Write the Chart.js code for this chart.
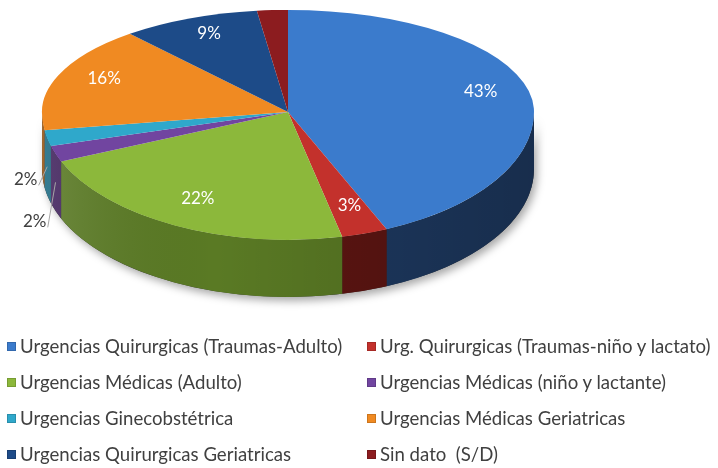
<!DOCTYPE html>
<html lang="es">
<head>
<meta charset="UTF-8">
<title>Urgencias por tipo</title>
<script src="https://cdn.jsdelivr.net/npm/chart.js@4.4.0/dist/chart.umd.min.js"></script>
<style>
    body {
        margin: 0;
        width: 718px;
        height: 468px;
        overflow: hidden;
        position: relative;
        background: #fff;
        font-family: Lato, "Open Sans", sans-serif;
    }
    .grafico {
        position: absolute;
        left: 0;
        top: 0;
        width: 718px;
        height: 520px;
    }
    .leyenda {
        position: absolute;
        left: 7px;
        top: 328px;
        display: grid;
        grid-template-columns: 360px 350px;
    }
    .leyenda div {
        display: flex;
        align-items: center;
        height: 36px;
        font-size: 18.6px;
        color: #404040;
        white-space: pre;
    }
    .leyenda .cuadro {
        width: 9px;
        height: 9px;
        margin-right: 4px;
        box-shadow: inset 0 0 0 1px rgba(0,0,0,0.15);
    }
</style>
</head>
<body>

<div class="grafico"><canvas id="torta"></canvas></div>
<div class="leyenda" id="leyenda"></div>

<script>
    // datos
    const categorias = [
        'Urgencias Quirurgicas (Traumas-Adulto)',
        'Urg. Quirurgicas (Traumas-niño y lactato)',
        'Urgencias Médicas (Adulto)',
        'Urgencias Médicas (niño y lactante)',
        'Urgencias Ginecobstétrica',
        'Urgencias Médicas Geriatricas',
        'Urgencias Quirurgicas Geriatricas',
        'Sin dato  (S/D)'
    ];
    const valores = [43, 3, 22, 2, 2, 16, 9, 2];
    const etiquetas = ['43%', '3%', '22%', '2%', '2%', '16%', '9%', ''];
    const colores = ['#3b7bcc', '#c3312c', '#8cb83b', '#7145a0', '#2fa8cb', '#f08a22', '#1d4b88', '#8c1c1f'];
    const coloresLado = ['#1e3a62', '#5e1512', '#5a7a24', '#42245e', '#1b6a82', '#94520f', '#10294a', '#4c0d0f'];

    // geometria del pastel 3D
    const VX = 288, VY = 112;
    const K_ARRIBA = 0.415, K_ABAJO = 0.52;
    const PROF = 57;

    // leyenda en dos columnas
    const leyenda = document.getElementById('leyenda');
    categorias.forEach((nombre, i) => {
        const item = document.createElement('div');
        item.innerHTML = '<span class="cuadro" style="background:' + colores[i] + '"></span>' + nombre;
        leyenda.appendChild(item);
    });

    const pastel3d = {
        id: 'pastel3d',
        beforeDatasetsDraw(chart) {
            const ctx = chart.ctx;
            const meta = chart.getDatasetMeta(0);
            const arcos = meta.data;
            const R = arcos[0].outerRadius, cx = arcos[0].x, cy = arcos[0].y;
            const ry = R * K_ABAJO;

            // sombra de la base
            ctx.save();
            ctx.shadowColor = 'rgba(0,0,0,0.35)';
            ctx.shadowBlur = 9;
            ctx.shadowOffsetX = 3;
            ctx.shadowOffsetY = 4;
            ctx.beginPath();
            ctx.ellipse(VX, VY, R, ry, 0, 0, Math.PI);
            ctx.ellipse(VX, VY + PROF, R, ry, 0, Math.PI, 0, true);
            ctx.closePath();
            ctx.fillStyle = '#333';
            ctx.fill();
            ctx.restore();

            // paredes laterales
            arcos.forEach((arco, i) => {
                const a = Math.max(arco.startAngle, 0);
                const b = Math.min(arco.endAngle, Math.PI);
                if (a >= b) return;
                ctx.beginPath();
                ctx.ellipse(VX, VY, R, ry, 0, a, b);
                ctx.ellipse(VX, VY + PROF, R, ry, 0, b, a, true);
                ctx.closePath();
                ctx.fillStyle = coloresLado[i];
                ctx.fill();
            });

            // sombreado de las paredes
            const g = ctx.createLinearGradient(VX - R, 0, VX + R, 0);
            g.addColorStop(0, 'rgba(255,255,255,0.12)');
            g.addColorStop(0.35, 'rgba(0,0,0,0)');
            g.addColorStop(1, 'rgba(0,0,0,0.22)');
            ctx.beginPath();
            ctx.ellipse(VX, VY, R, ry, 0, 0, Math.PI);
            ctx.ellipse(VX, VY + PROF, R, ry, 0, Math.PI, 0, true);
            ctx.closePath();
            ctx.fillStyle = g;
            ctx.fill();

            // cara superior en dos mitades (perspectiva)
            [[K_ARRIBA, 0, VY], [K_ABAJO, VY, chart.height]].forEach(([k, y0, y1]) => {
                ctx.save();
                ctx.beginPath();
                ctx.rect(0, y0, chart.width, y1 - y0);
                ctx.clip();
                ctx.translate(VX, VY);
                ctx.scale(1, k);
                ctx.translate(-cx, -cy);
                meta.controller.draw();
                ctx.restore();
            });
            return false;
        },
        afterDraw(chart) {
            const ctx = chart.ctx;
            const arcos = chart.getDatasetMeta(0).data;
            const R = arcos[0].outerRadius;
            const total = valores.reduce((s, v) => s + v, 0);
            const fuera = [];

            ctx.save();
            ctx.font = '17px Lato, "Open Sans", sans-serif';
            ctx.textAlign = 'center';
            ctx.textBaseline = 'middle';
            arcos.forEach((arco, i) => {
                if (!etiquetas[i]) return;
                const m = (arco.startAngle + arco.endAngle) / 2;
                const k = Math.sin(m) < 0 ? K_ARRIBA : K_ABAJO;
                if (valores[i] / total < 0.025) {
                    const r = R + 22;
                    fuera.push({
                        i: i, m: m,
                        x: VX + r * Math.cos(m),
                        y: VY + r * k * Math.sin(m) + PROF * 0.9
                    });
                    return;
                }
                const r = R * 0.8;
                ctx.fillStyle = '#ffffff';
                ctx.fillText(etiquetas[i], VX + r * Math.cos(m), VY + r * k * Math.sin(m) - 4);
            });

            // separar etiquetas externas
            fuera.sort((p, q) => p.y - q.y);
            if (fuera.length === 2 && fuera[1].y - fuera[0].y < 42) {
                const medio = (fuera[0].y + fuera[1].y) / 2;
                fuera[0].y = medio - 21;
                fuera[1].y = medio + 21;
            }
            fuera.forEach(p => {
                const wx = VX + R * Math.cos(p.m);
                const wy = VY + R * K_ABAJO * Math.sin(p.m) + PROF * 0.5;
                ctx.strokeStyle = '#a6a6a6';
                ctx.lineWidth = 1;
                ctx.beginPath();
                ctx.moveTo(p.x + 13, p.y + 6);
                ctx.lineTo(wx, wy);
                ctx.stroke();
                ctx.fillStyle = '#404040';
                ctx.fillText(etiquetas[p.i], p.x, p.y);
            });
            ctx.restore();
        }
    };

    new Chart(document.getElementById('torta'), {
        type: 'pie',
        data: {
            labels: categorias,
            datasets: [{
                data: valores,
                backgroundColor: colores,
                borderWidth: 0
            }]
        },
        options: {
            responsive: true,
            maintainAspectRatio: false,
            animation: false,
            events: [],
            layout: { padding: { left: 42, right: 184, top: 0, bottom: 28 } },
            plugins: {
                legend: { display: false },
                tooltip: { enabled: false }
            }
        },
        plugins: [pastel3d]
    });
</script>

</body>
</html>
